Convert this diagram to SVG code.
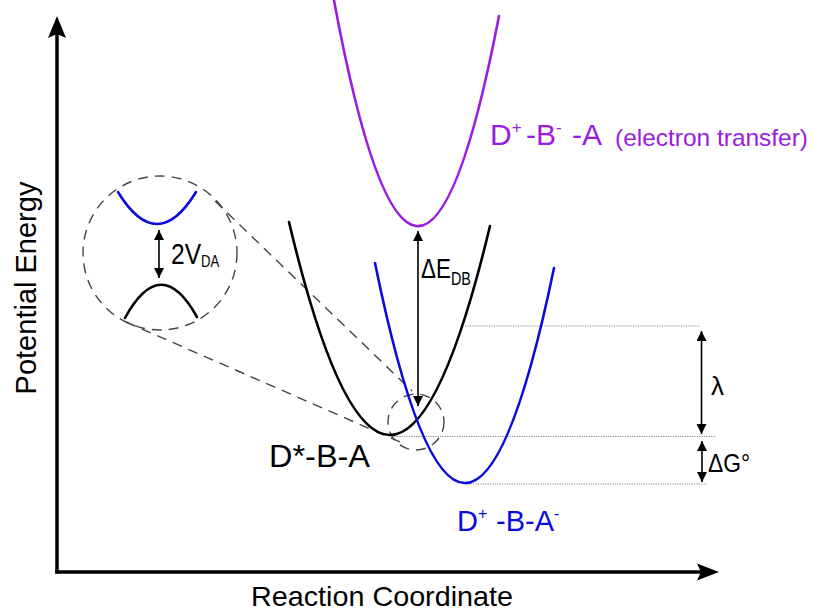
<svg xmlns="http://www.w3.org/2000/svg" width="813" height="612" viewBox="0 0 813 612">
<style>
  text { font-family: "Liberation Sans", Arial, sans-serif; }
  .axis { stroke: #000; stroke-width: 3.5; fill: none; }
  .curve { fill: none; stroke-width: 2.6; stroke-linecap: round; }
  .blk { stroke: #000; }
  .blu { stroke: #0b0bdc; }
  .pur { stroke: #9b1be0; }
  .dot { stroke: #888; stroke-width: 1.2; stroke-dasharray: 1.2 1.2; fill: none; }
  .dash { stroke: #444; stroke-width: 1.4; stroke-dasharray: 10 7; fill: none; }
  .dbl { stroke: #000; stroke-width: 1.6; marker-start: url(#ah); marker-end: url(#ah); }
</style>
<defs>
  <marker id="ah" markerUnits="userSpaceOnUse" markerWidth="11" markerHeight="11" refX="10" refY="5" orient="auto-start-reverse">
    <path d="M0,0 L10,5 L0,10 Z" fill="#000"/>
  </marker>
</defs>
<rect width="813" height="612" fill="#fff"/>

<g id="axes">
  <line class="axis" x1="57" y1="34" x2="57" y2="573.5"/>
  <line class="axis" x1="55.3" y1="572" x2="703" y2="572"/>
  <path d="M57,16 L66,38 L57,34 L48,38 Z" fill="#000"/>
  <path d="M719,572 L697,563.5 L701,572 L697,580.5 Z" fill="#000"/>
  <text x="382" y="606" font-size="28" text-anchor="middle" textLength="262" lengthAdjust="spacingAndGlyphs">Reaction Coordinate</text>
  <text transform="translate(36,288) rotate(-90)" font-size="29" text-anchor="middle">Potential Energy</text>
</g>

<g id="guides">
  <line class="dot" x1="465" y1="326" x2="700" y2="326"/>
  <line class="dot" x1="392" y1="436.5" x2="716" y2="436.5"/>
  <line class="dot" x1="466" y1="484" x2="707" y2="484"/>
</g>

<g id="zoom">
  <circle class="dash" cx="160" cy="253" r="77"/>
  <circle class="dash" cx="416" cy="422" r="28"/>
  <line class="dash" x1="215" y1="201" x2="412" y2="391"/>
  <line class="dash" x1="126" y1="322" x2="400" y2="442"/>
</g>

<g id="curve-DBA">
  <path class="curve blk" d="M289,222 Q389.5,646 490,226"/>
  <text x="269" y="467" font-size="32" textLength="101" lengthAdjust="spacingAndGlyphs">D*-B-A</text>
</g>

<g id="curve-DBA-minus">
  <path class="curve blu" d="M375,263 Q464.5,700.6 554,268"/>
  <text x="457" y="531" font-size="29" fill="#0b0bdc">D<tspan font-size="16" dy="-12">+</tspan><tspan dy="12" x="496">-B-A</tspan><tspan font-size="16" dy="-12">-</tspan></text>
</g>

<g id="curve-DBminusA">
  <path class="curve pur" d="M333,-5 Q416,446.5 499,16"/>
  <text x="490" y="145" font-size="30" fill="#9b1be0">D<tspan font-size="17" dy="-12">+</tspan><tspan dy="12" x="526">-B</tspan><tspan font-size="17" dy="-12">-</tspan><tspan dy="12" x="572">-A</tspan></text>
  <text x="615" y="146" font-size="24" fill="#9b1be0" textLength="193" lengthAdjust="spacingAndGlyphs">(electron transfer)</text>
</g>

<g id="inset">
  <path class="curve blu" d="M118,192 Q157,256 196,192"/>
  <path class="curve blk" d="M125,318 Q161,252 197,317"/>
  <line class="dbl" x1="159" y1="230" x2="159" y2="278"/>
  <text transform="translate(171,264) scale(0.82,1)" font-size="30">2V<tspan font-size="16" dy="3">DA</tspan></text>
</g>

<g id="connectors">
  <line class="dbl" x1="418" y1="231" x2="418" y2="406"/>
  <line class="dbl" x1="701.5" y1="331" x2="701.5" y2="434"/>
  <line class="dbl" x1="702" y1="441" x2="702" y2="482"/>
</g>

<g id="labels">
  <text transform="translate(421,278) scale(0.8,1)" font-size="28">ΔE<tspan font-size="18" dy="7">DB</tspan></text>
  <text x="711" y="395" font-size="26">λ</text>
  <text x="708" y="472" font-size="26" textLength="42" lengthAdjust="spacingAndGlyphs">ΔG°</text>
</g>
</svg>
